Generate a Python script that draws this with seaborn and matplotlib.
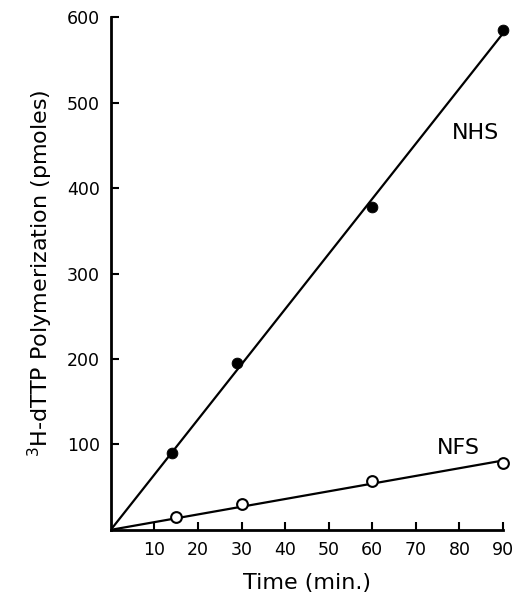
import numpy as np
import pandas as pd
import seaborn as sns
import matplotlib.pyplot as plt

# readings
nhs_time = [14, 29, 60, 90]
nhs_pmol = [90, 195, 378, 585]
nfs_time = [15, 30, 60, 90]
nfs_pmol = [15, 30, 57, 78]

x_ticks = [10, 20, 30, 40, 50, 60, 70, 80, 90]
y_ticks = [100, 200, 300, 400, 500, 600]


def fit_through_origin(x, y):
    x = np.asarray(x, float)
    y = np.asarray(y, float)
    slope = (x * y).sum() / (x * x).sum()
    xs = np.array([0.0, x.max()])
    return pd.DataFrame({"time": xs, "pmol": slope * xs})


sns.set_theme(style="ticks")
plt.rcParams["font.family"] = ["DejaVu Sans"]
plt.rcParams["text.color"] = "black"
plt.rcParams["axes.labelcolor"] = "black"
plt.rcParams["xtick.color"] = "black"
plt.rcParams["ytick.color"] = "black"
plt.rcParams["axes.edgecolor"] = "black"

fig = plt.figure(figsize=(5.25, 5.96), dpi=100)
ax = fig.add_axes([0.211, 0.111, 0.747, 0.860])

nhs = pd.DataFrame({"time": nhs_time, "pmol": nhs_pmol})
nfs = pd.DataFrame({"time": nfs_time, "pmol": nfs_pmol})

sns.lineplot(data=fit_through_origin(nhs_time, nhs_pmol), x="time", y="pmol",
             color="black", linewidth=1.6, ax=ax)
sns.lineplot(data=fit_through_origin(nfs_time, nfs_pmol), x="time", y="pmol",
             color="black", linewidth=1.6, ax=ax)

sns.scatterplot(data=nhs, x="time", y="pmol", color="black", edgecolor="black",
                s=60, zorder=5, clip_on=False, ax=ax)
sns.scatterplot(data=nfs, x="time", y="pmol", color="white", edgecolor="black",
                linewidth=1.5, s=60, zorder=5, clip_on=False, ax=ax)

ax.text(83.7, 465, "NHS", fontsize=16, ha="center", va="center")
ax.text(79.8, 96, "NFS", fontsize=16, ha="center", va="center")

ax.set_xlim(0, 90)
ax.set_ylim(0, 600)
ax.set_xticks(x_ticks)
ax.set_yticks(y_ticks)
ax.tick_params(direction="in", length=6, width=1.5, labelsize=12.5, pad=8)
sns.despine(ax=ax)
for side in ["left", "bottom"]:
    ax.spines[side].set_linewidth(2)

ax.set_xlabel("Time (min.)", fontsize=16, labelpad=10)
ax.set_ylabel("$^{3}$H-dTTP Polymerization (pmoles)", fontsize=16, labelpad=8)

plt.savefig("out.png", dpi=100)
plt.close()
